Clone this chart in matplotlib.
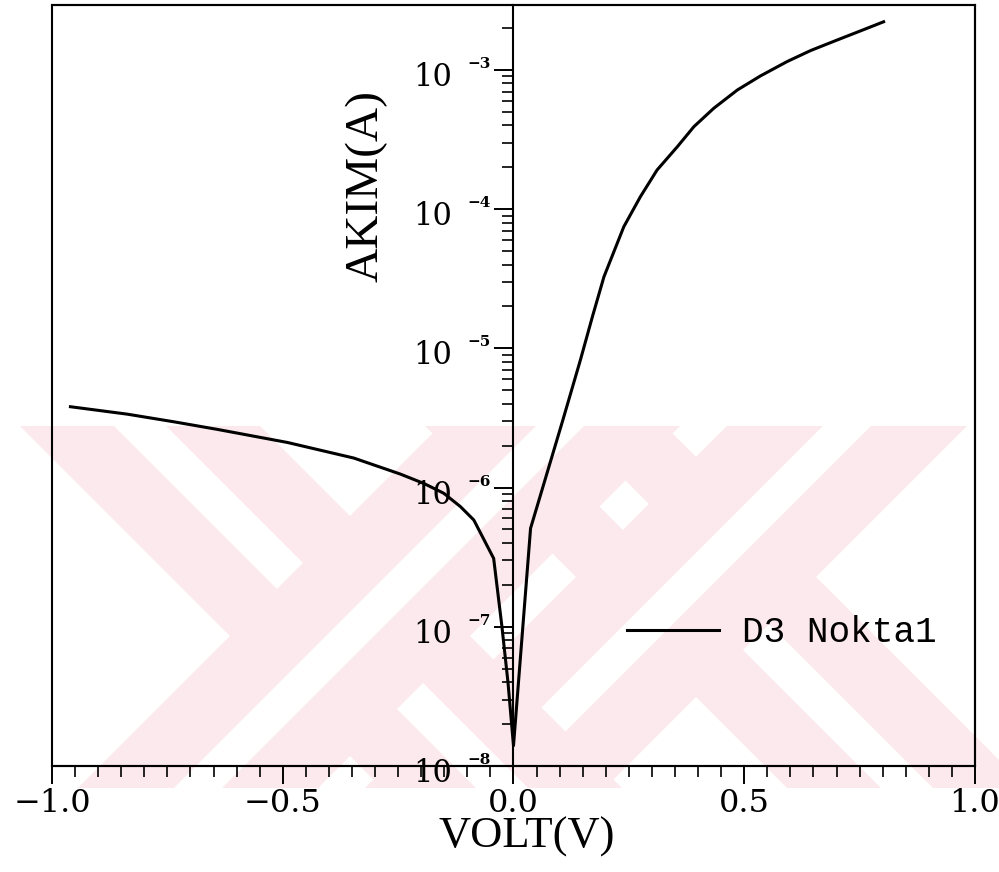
import numpy as np
import matplotlib
matplotlib.use('Agg')
import matplotlib.pyplot as plt
from matplotlib.patches import Polygon, Rectangle
from matplotlib.transforms import Affine2D
from matplotlib.ticker import FixedLocator, LogLocator, NullFormatter, FuncFormatter

# I-V data
volt = [-0.960, -0.837, -0.736, -0.642, -0.490, -0.346, -0.245, -0.194, -0.151, -0.115,
        -0.086, -0.043, -0.025, -0.012, 0.000, 0.037, 0.107, 0.145, 0.171, 0.196,
        0.239, 0.275, 0.311, 0.355, 0.391, 0.434, 0.485, 0.535, 0.593, 0.644,
        0.701, 0.752, 0.802]
akim = [3.81e-6, 3.37e-6, 2.97e-6, 2.62e-6, 2.11e-6, 1.63e-6, 1.25e-6, 1.07e-6, 9.1e-7, 7.3e-7,
        5.85e-7, 3.1e-7, 1.0e-7, 4.0e-8, 1.4e-8, 5.1e-7, 3.06e-6, 8.26e-6, 1.69e-5, 3.27e-5,
        7.48e-5, 1.23e-4, 1.91e-4, 2.81e-4, 3.92e-4, 5.31e-4, 7.18e-4, 9.06e-4, 1.15e-3, 1.38e-3,
        1.64e-3, 1.91e-3, 2.22e-3]
series_label = 'D3 Nokta1'
x_ticks = [-1.0, -0.5, 0.0, 0.5, 1.0]
y_decades = [-8, -7, -6, -5, -4, -3]

plt.rcParams['font.family'] = 'DejaVu Serif'

fig = plt.figure(figsize=(9.99, 8.72), dpi=100)

# background watermark (pink X marks), drawn in pixel space of the figure
pix = Affine2D().scale(1 / 999, -1 / 872).translate(0, 1) + fig.transFigure
clip = Rectangle((0, 426), 999, 362, transform=pix)
PINK = '#fce9ed'


def band(kind, c, half, y0, y1):
    if kind == 'bs':
        return [(c - half + y0, y0), (c + half + y0, y0), (c + half + y1, y1), (c - half + y1, y1)]
    return [(c - half - y0, y0), (c + half - y0, y0), (c + half - y1, y1), (c - half - y1, y1)]


def wm(verts, color, z):
    p = Polygon(verts, closed=True, fc=color, ec='none', transform=pix, zorder=z)
    p.set_clip_path(clip)
    fig.add_artist(p)


for cx, cy in [(696, 577), (350, 636)]:
    c1, c2 = cx - cy, cx + cy
    # "\" arm underneath, its stripe broken at the crossing
    wm(band('bs', c1, 120, 380, 840), PINK, -5)
    for y0, y1 in [(380, cy - 45), (cy + 45, 840)]:
        wm(band('bs', c1, 26, y0, y1), 'white', -5)
    # "/" arm on top, with a continuous stripe
    wm(band('fs', c2, 120, 380, 840), PINK, -5)
    wm(band('fs', c2, 24, 380, 840), 'white', -5)

ax = fig.add_axes([0.05205, 0.12156, 0.92392, 0.87271])
ax.patch.set_alpha(0)

ax.plot(volt, akim, color='black', lw=2.2, label=series_label)
ax.set_yscale('log')
ax.set_xlim(-1, 1)
ax.set_ylim(1e-8, 2.93e-3)

# y axis runs through V = 0
ax.spines['left'].set_position(('data', 0))
for s in ['left', 'top', 'right', 'bottom']:
    ax.spines[s].set_linewidth(1.5)
ax.add_patch(Rectangle((0, 0), 1, 1, transform=ax.transAxes, fill=False,
                       lw=1.5, ec='black', clip_on=False))

ax.xaxis.set_major_locator(FixedLocator(x_ticks))
ax.xaxis.set_minor_locator(FixedLocator(np.arange(-1.0, 1.001, 0.05)))
ax.xaxis.set_major_formatter(FuncFormatter(lambda v, p: ('%.1f' % v).replace('-', '\u2212')))
ax.tick_params(axis='x', which='major', direction='out', length=13, width=1.4,
               labelsize=23, pad=3)
ax.tick_params(axis='x', which='minor', direction='out', length=8, width=1.2)

ax.yaxis.set_major_locator(FixedLocator([10.0 ** k for k in y_decades]))
ax.yaxis.set_minor_locator(LogLocator(base=10.0, subs=np.arange(2, 10), numticks=30))
ax.yaxis.set_minor_formatter(NullFormatter())
ax.tick_params(axis='y', which='major', direction='out', length=14, width=1.4, labelleft=False)
ax.tick_params(axis='y', which='minor', direction='out', length=8, width=1.2)

for k in y_decades:
    ax.annotate('10', xy=(0, 10.0 ** k), xytext=(-44, -11.5), textcoords='offset points',
                ha='right', va='baseline', fontsize=22)
    ax.annotate('\u2212%d' % -k, xy=(0, 10.0 ** k), xytext=(-33, 1.5), textcoords='offset points',
                ha='left', va='baseline', fontsize=11, fontweight='bold')

ax.set_xlabel('VOLT(V)', family='Liberation Serif', fontsize=32)
ax.xaxis.set_label_coords(0.514, -0.066)
ax.set_ylabel('AKIM(A)', family='Liberation Serif', fontsize=34)
ax.yaxis.set_label_coords(0.364, 0.762)

ax.legend(loc='center left', bbox_to_anchor=(0.623, 0.1748), frameon=False,
          prop={'family': 'Liberation Mono', 'size': 26}, handlelength=2.55,
          handletextpad=0.63, borderpad=0, borderaxespad=0)

fig.savefig('out.png', dpi=100)
